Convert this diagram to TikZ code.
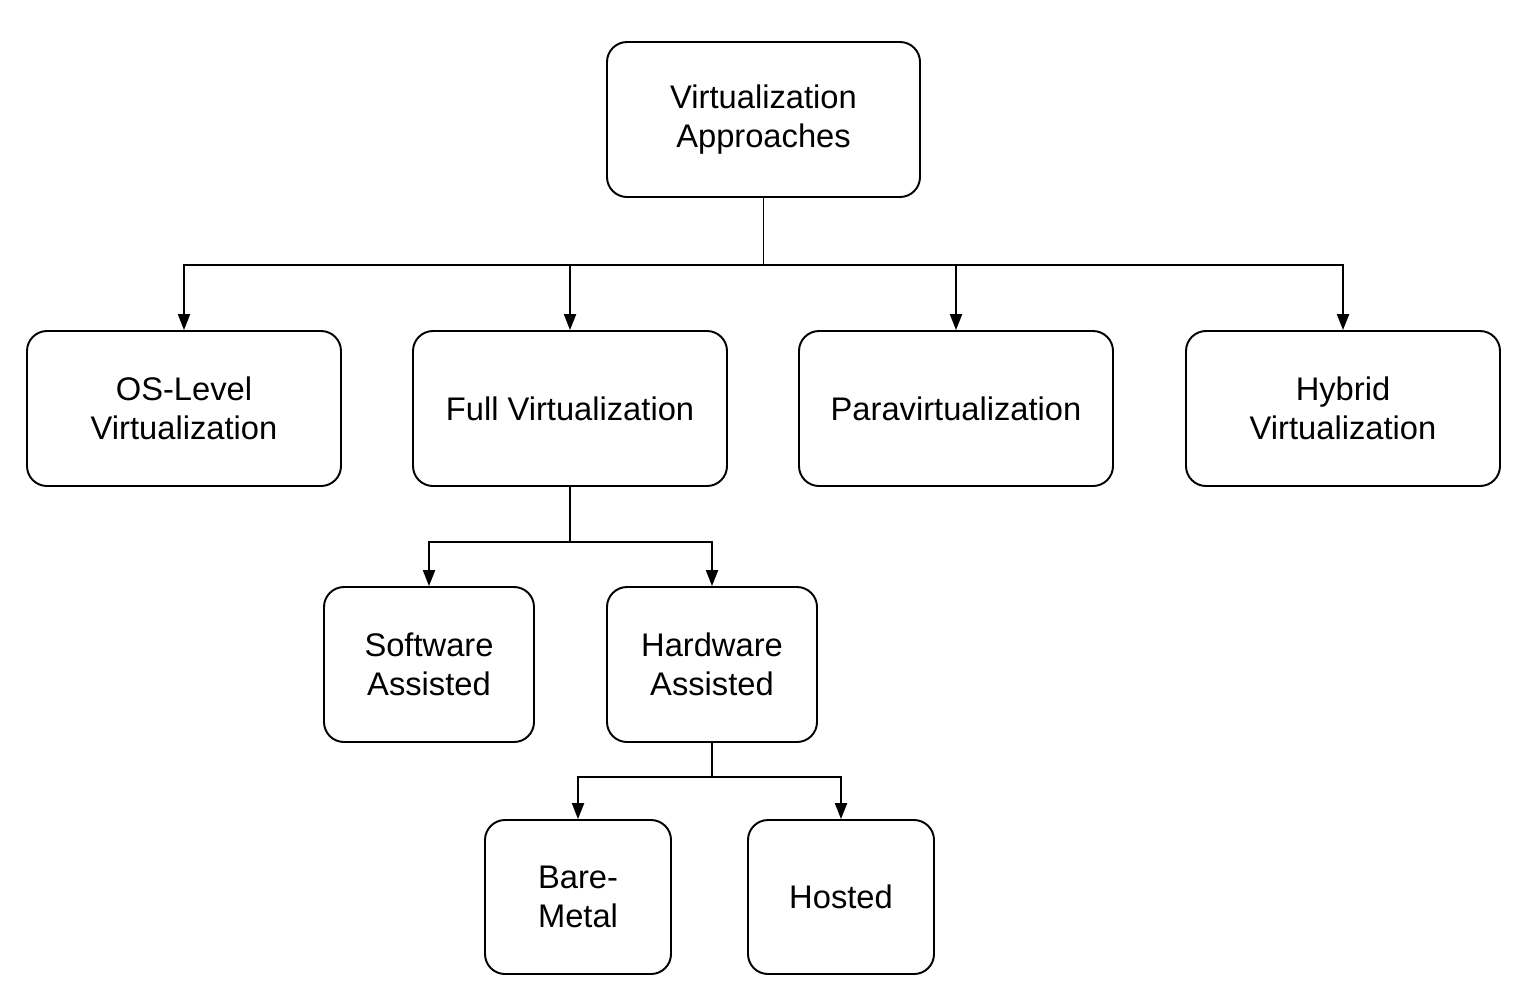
\documentclass[tikz,border=0pt]{standalone}
\usepackage{fontspec}
\setmainfont{Liberation Sans}
\usetikzlibrary{arrows.meta}
\def \wide{6.28cm}
\def \tall{3.1cm}

\begin{document}
\begin{tikzpicture}[
    box/.style={draw, line width=1.1pt, rounded corners=0.4cm, align=center,
      minimum height=\tall, font=\fontsize{18.6}{22.4}\selectfont},
    link/.style={line width=1.1pt},
    arr/.style={link, -{Triangle[width=6.8pt,length=9pt]}}
  ]

    \useasboundingbox (0,0) rectangle (30.48,-19.96);

    \node[box, minimum width=6.26cm] (top) at (15.27,-2.39) {Virtualization\\Approaches};

    \node[box, minimum width=\wide] (os) at (3.68,-8.17) {OS-Level\\Virtualization};
    \node[box, minimum width=\wide] (full) at (11.40,-8.17) {Full Virtualization};
    \node[box, minimum width=\wide] (para) at (19.12,-8.17) {Paravirtualization};
    \node[box, minimum width=\wide] (hybrid) at (26.86,-8.17) {Hybrid\\Virtualization};

    \node[box, minimum width=4.2cm] (soft) at (8.58,-13.29) {Software\\Assisted};
    \node[box, minimum width=4.2cm] (hard) at (14.24,-13.29) {Hardware\\Assisted};

    \node[box, minimum width=3.72cm, minimum height=3.08cm] (bare) at (11.56,-17.94) {Bare-\\Metal};
    \node[box, minimum width=3.72cm, minimum height=3.08cm] (hosted) at (16.82,-17.94) {Hosted};

    % first level
    \coordinate (busA) at (15.27,-5.30);
    \draw[link] (top) -- (busA);
    \foreach \n in {os,full,para,hybrid}
      \draw[arr] (busA) -| (\n);

    % full virtualization
    \coordinate (busB) at (11.40,-10.84);
    \draw[link] (full) -- (busB);
    \foreach \n in {soft,hard}
      \draw[arr] (busB) -| (\n);

    % hardware assisted
    \coordinate (busC) at (14.24,-15.54);
    \draw[link] (hard) -- (busC);
    \foreach \n in {bare,hosted}
      \draw[arr] (busC) -| (\n);

  \end{tikzpicture}
\end{document}
